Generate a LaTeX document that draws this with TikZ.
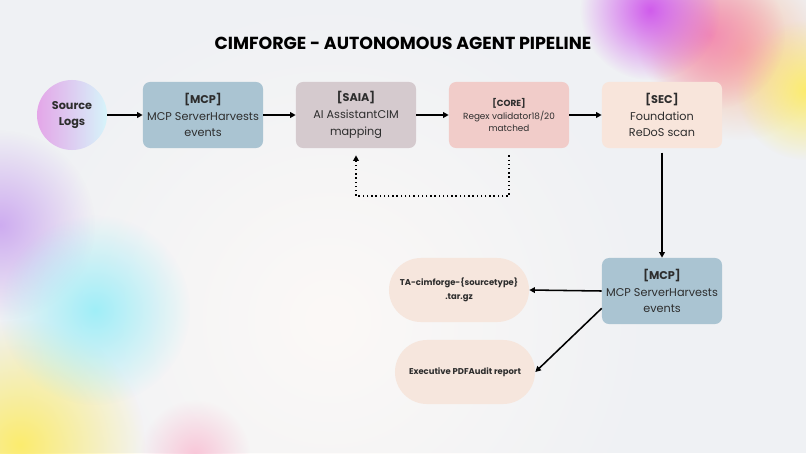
\documentclass[tikz,border=0pt]{standalone}
\usepackage{fontspec}
\setmainfont{Poppins}
\usetikzlibrary{arrows.meta, positioning, calc, fadings}
\definecolor{bgwhite}{RGB}{239, 241, 244}
\definecolor{glowwhite}{RGB}{252, 249, 247}
\definecolor{mcpblue}{RGB}{170, 196, 210}
\definecolor{saiagrey}{RGB}{213, 202, 206}
\definecolor{corepink}{RGB}{241, 204, 201}
\definecolor{secpeach}{RGB}{248, 229, 219}
\definecolor{outpeach}{RGB}{246, 230, 221}
\definecolor{srcviolet}{RGB}{228, 166, 232}
\definecolor{srccyan}{RGB}{214, 244, 250}
\definecolor{inkgrey}{RGB}{45, 45, 45}
\definecolor{blobviolet}{RGB}{208, 92, 236}
\definecolor{blobpink}{RGB}{242, 140, 178}
\definecolor{blobpeach}{RGB}{248, 190, 160}
\definecolor{blobyellow}{RGB}{252, 236, 110}
\definecolor{blobcyan}{RGB}{160, 238, 248}
\definecolor{bloblilac}{RGB}{206, 172, 240}
\tikzfading[name=blobfade, inner color=transparent!0, outer color=transparent!100]

\begin{document}
\begin{tikzpicture}[
    x=0.025cm, y=-0.025cm,
    stage/.style={rectangle, rounded corners=5pt, minimum width=3cm, minimum height=1.65cm, font=\fontsize{8}{12}\selectfont, text=inkgrey, align=center, inner sep=2pt},
    outpill/.style={rectangle, rounded corners=0.8cm, fill=outpeach, minimum width=3.5cm, minimum height=1.6cm, font=\fontsize{6}{10}\selectfont\bfseries, text=inkgrey, align=center},
    arr/.style={-{Triangle[length=4pt, width=4pt]}, line width=1.1pt, black},
    dotarr/.style={-{Triangle[length=4pt, width=4pt]}, line width=1pt, dotted, black},
]

% fond et bordures
\fill[bgwhite] (0,0) rectangle (806,453);
\useasboundingbox (0,0) rectangle (806,453);

% taches de couleur
\begin{scope}
\clip (0,0) rectangle (806,453);
\fill[glowwhite, path fading=blobfade] (330,320) circle (330);
\fill[blobpeach, path fading=blobfade] (740,50) circle (90);
\fill[blobyellow, path fading=blobfade] (806,90) circle (70);
\fill[blobpink, path fading=blobfade] (710,35) circle (75);
\fill[blobviolet, path fading=blobfade] (650,10) circle (70);
\fill[bloblilac, path fading=blobfade] (0,225) circle (95);
\fill[blobpink!50, path fading=blobfade] (195,455) circle (55);
\fill[blobyellow, path fading=blobfade] (20,445) circle (125);
\fill[blobcyan, path fading=blobfade] (95,310) circle (95);
\end{scope}

% titre
\node[font=\fontsize{12.4}{14}\selectfont\bfseries, text=black] (title) at (403,43) {CIMFORGE - AUTONOMOUS AGENT PIPELINE};

% ligne du haut
\node[circle, minimum size=1.75cm, left color=srcviolet, right color=srccyan, font=\fontsize{8}{12}\selectfont\bfseries, text=inkgrey, align=center] (src) at (72,115) {Source\\Logs};
\node[stage, fill=mcpblue] (mcp) at (203,115) {\textbf{[MCP]}\\MCP ServerHarvests\\events};
\node[stage, fill=saiagrey] (saia) at (356,115) {\textbf{[SAIA]}\\AI AssistantCIM\\mapping};
\node[stage, fill=corepink, font=\fontsize{6.3}{9.2}\selectfont] (core) at (509,115) {\textbf{[CORE]}\\Regex validator18/20\\matched};
\node[stage, fill=secpeach] (sec) at (662,115) {\textbf{[SEC]}\\Foundation\\ReDoS scan};

% bas droite
\node[stage, fill=mcpblue] (mcpout) at (662,291) {\textbf{[MCP]}\\MCP ServerHarvests\\events};
\node[outpill] (pack) at (459,290) {TA-cimforge-\{sourcetype\}\\.tar.gz};
\node[outpill] (report) at (465,372) {Executive PDFAudit report};

% flux
\draw[arr] (src) -- (mcp);
\draw[arr] (mcp) -- (saia);
\draw[arr] (saia) -- (core);
\draw[arr] (core) -- (sec);
\draw[arr, shorten <=3pt] (sec) -- (mcpout);
\draw[arr] (mcpout.west) -- (pack.east);
\draw[arr] (mcpout.196) -- (report.east);

% boucle de correction
\coordinate (loopb) at (509,196);
\draw[dotarr, shorten <=5pt, shorten >=5pt] (core.south) -- (loopb) -| (saia.south);

\end{tikzpicture}
\end{document}
